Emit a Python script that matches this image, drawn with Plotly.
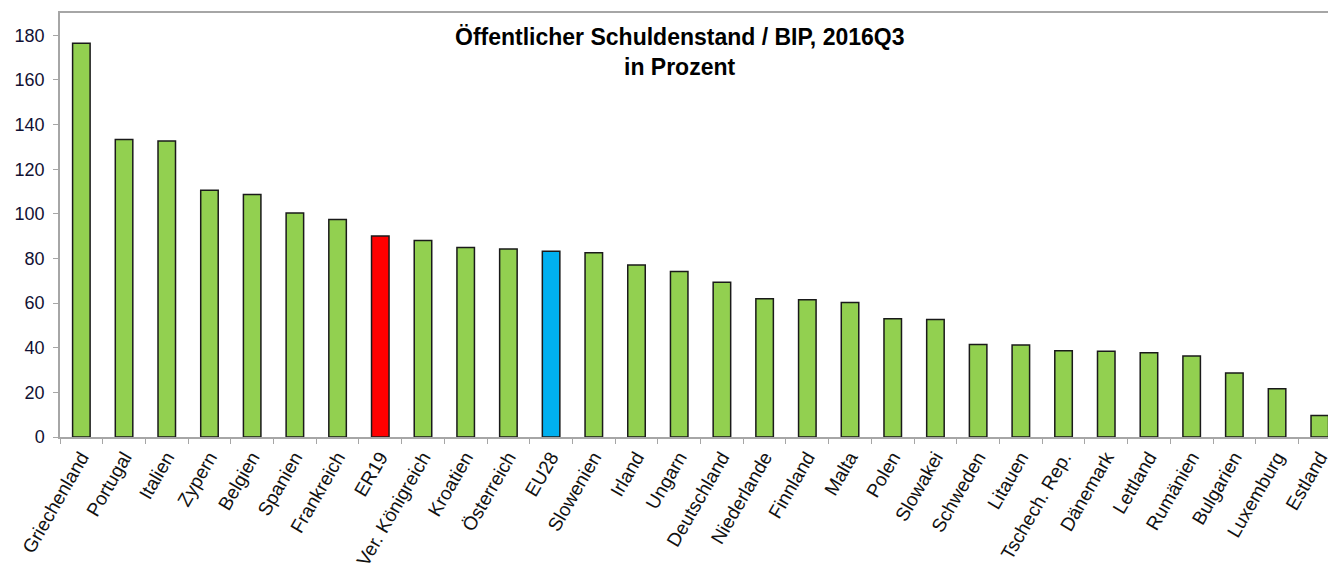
import plotly.graph_objects as go

countries = ["Griechenland", "Portugal", "Italien", "Zypern", "Belgien", "Spanien",
             "Frankreich", "ER19", "Ver. Königreich", "Kroatien", "Österreich", "EU28",
             "Slowenien", "Irland", "Ungarn", "Deutschland", "Niederlande", "Finnland",
             "Malta", "Polen", "Slowakei", "Schweden", "Litauen", "Tschech. Rep.",
             "Dänemark", "Lettland", "Rumänien", "Bulgarien", "Luxemburg", "Estland"]
debt_ratio = [176.5, 133.3, 132.6, 110.6, 108.7, 100.4, 97.5, 90.1, 88.1, 84.9, 84.3, 83.2,
              82.6, 77.1, 74.2, 69.4, 61.9, 61.5, 60.3, 53.0, 52.6, 41.4, 41.2, 38.7,
              38.4, 37.8, 36.3, 28.7, 21.6, 9.6]
highlight_colors = {"ER19": "#FF0000", "EU28": "#00B0F0"}
default_color = "#92D050"
y_ticks = [0, 20, 40, 60, 80, 100, 120, 140, 160, 180]

colors = [highlight_colors.get(c, default_color) for c in countries]

fig = go.Figure()
fig.add_trace(go.Bar(
    x=countries, y=debt_ratio,
    marker=dict(color=colors, line=dict(color="#1a1a1a", width=1.5)),
    width=0.41,
))

font_family = "Liberation Sans, Arial, sans-serif"
# page body has an 8px default margin, so the figure is offset by 8px
W, H, L, T, B = 1328, 568, 52, 5, 139
ph = H - T - B

fig.update_layout(
    width=W, height=H,
    margin=dict(l=L, r=0, t=T, b=B),
    plot_bgcolor="white", paper_bgcolor="white",
    showlegend=False,
    font=dict(family=font_family, color="#111111"),
)
fig.update_xaxes(
    range=[-0.5, 29.38], automargin=False,
    showline=True, linecolor="#a6a6a6", linewidth=1.5, mirror=True,
    ticks="outside", tickson="boundaries", ticklen=5, tickcolor="#a6a6a6",
    tickangle=-60, tickfont=dict(size=19, family=font_family, color="#111111"),
    showgrid=False,
)
fig.update_yaxes(
    range=[0, 190], automargin=False,
    tickvals=y_ticks,
    showline=True, linecolor="#a6a6a6", linewidth=1.5,
    ticks="outside", ticklen=5, tickcolor="#a6a6a6",
    tickfont=dict(size=18, family=font_family, color="#111133"),
    ticklabelstandoff=5,
    showgrid=False, zeroline=False,
)

def py(pix):
    # pix is the screen y position; convert to paper coords
    return (H - B - (pix - 8)) / ph

fig.add_annotation(text="<b>Öffentlicher Schuldenstand / BIP, 2016Q3</b>",
                   xref="paper", yref="paper", x=(680 - 8 - L) / (W - L), y=py(37),
                   xanchor="center", yanchor="middle", showarrow=False,
                   font=dict(size=23, family=font_family, color="#000000"))
fig.add_annotation(text="<b>in Prozent</b>",
                   xref="paper", yref="paper", x=(680 - 8 - L) / (W - L), y=py(67),
                   xanchor="center", yanchor="middle", showarrow=False,
                   font=dict(size=23, family=font_family, color="#000000"))

fig.write_html("out.html")
